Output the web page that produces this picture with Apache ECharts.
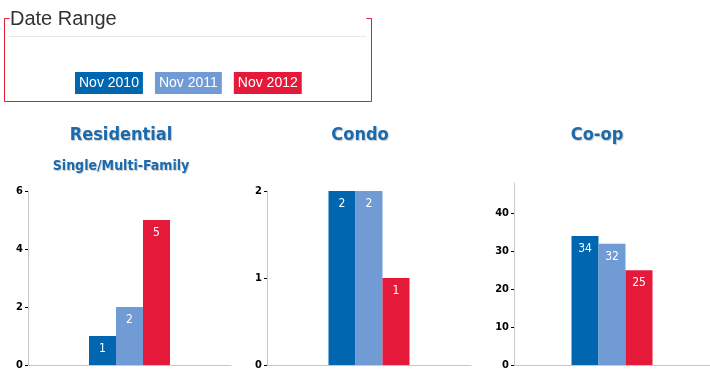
<!DOCTYPE html>
<html><head><meta charset="utf-8">
<script src="https://cdn.jsdelivr.net/npm/echarts@6/dist/echarts.min.js"></script>
<style>html,body{margin:0;padding:0;background:#fff}#c{width:710px;height:380px}</style>
</head><body><div id="c"></div>
<script>
const seriesNames = ['Nov 2010', 'Nov 2011', 'Nov 2012'];
const panelTitles = ['Residential', 'Condo', 'Co-op'];
const panelSubtitle = 'Single/Multi-Family';
const residential = [1, 2, 5];
const condo = [2, 2, 1];
const coop = [34, 32, 25];
const residentialTicks = [0, 2, 4, 6];
const condoTicks = [0, 1, 2];
const coopTicks = [0, 10, 20, 30, 40];

const colors = ['#0066b0', '#709bd4', '#e5193a'];
const panels = [residential, condo, coop];
const ticks = [residentialTicks, condoTicks, coopTicks];
const axisMax = [6, 2, 48];
const grids = [
  {left: 28, width: 203, top: 191, height: 174},
  {left: 267, width: 204, top: 191, height: 174},
  {left: 514, width: 196, top: 183, height: 182}
];
const titleX = [121, 360, 597];

const chart = echarts.init(document.getElementById('c'));
const series = [];
panels.forEach((vals, p) => {
  vals.forEach((v, i) => {
    series.push({
      name: seriesNames[i], type: 'bar', xAxisIndex: p, yAxisIndex: p,
      data: [v], barWidth: 27, barGap: '0%', itemStyle: {color: colors[i]},
      label: {show: true, position: 'insideTop', distance: 7, color: '#fff',
        fontFamily: 'DejaVu Sans Condensed', fontSize: 12}
    });
  });
});
const titleStyle = {fontFamily: 'DejaVu Sans Condensed', fontWeight: 'bold', color: '#1b6aae',
  textShadowColor: 'rgba(0,0,0,0.22)', textShadowOffsetX: 1, textShadowOffsetY: 1, textShadowBlur: 1};
chart.setOption({
  animation: false,
  color: colors,
  title: panelTitles.map((t, i) => ({text: t, left: titleX[i], top: 126, padding: 0, textAlign: 'center',
    textStyle: Object.assign({fontSize: 18}, titleStyle)}))
    .concat([{text: panelSubtitle, left: 121, top: 159, padding: 0, textAlign: 'center',
      textStyle: Object.assign({fontSize: 14}, titleStyle)}]),
  legend: {
    top: 72, left: 70, padding: 0, itemGap: 7, itemWidth: 0, itemHeight: 0, icon: 'rect',
    selectedMode: false,
    data: seriesNames.map((n, i) => ({name: n, textStyle: {backgroundColor: colors[i],
      color: '#fff', fontFamily: 'Liberation Sans', fontSize: 14, padding: [4, 4, 3, 4], lineHeight: 15}}))
  },
  grid: grids,
  xAxis: grids.map((g, i) => ({type: 'category', gridIndex: i, data: [''],
    axisLine: {lineStyle: {color: '#c8c8c8'}}, axisTick: {show: false}, axisLabel: {show: false}})),
  yAxis: grids.map((g, i) => ({type: 'value', gridIndex: i, min: 0, max: axisMax[i],
    interval: ticks[i][1] - ticks[i][0],
    splitLine: {show: false},
    axisLine: {show: true, lineStyle: {color: '#c8c8c8'}},
    axisTick: {show: true, length: 3, lineStyle: {color: '#000'}, customValues: ticks[i]},
    axisLabel: {color: '#000', fontFamily: 'DejaVu Sans Condensed', fontWeight: 'bold', fontSize: 11, margin: 5,
      customValues: ticks[i]}})),
  graphic: [
    {type: 'polyline', shape: {points: [[9.5, 18.5], [4.5, 18.5], [4.5, 101.5], [371.5, 101.5], [371.5, 18.5], [366.5, 18.5]]},
      style: {stroke: '#e5193a', lineWidth: 1, fill: null}},
    {type: 'line', shape: {x1: 9, y1: 36.5, x2: 366, y2: 36.5}, style: {stroke: '#e8e8e8', lineWidth: 1}},
    {type: 'text', left: 10, top: 9, style: {text: 'Date Range', fill: '#333', font: '20px "Liberation Sans"'}}
  ],
  series: series
});
</script></body></html>
